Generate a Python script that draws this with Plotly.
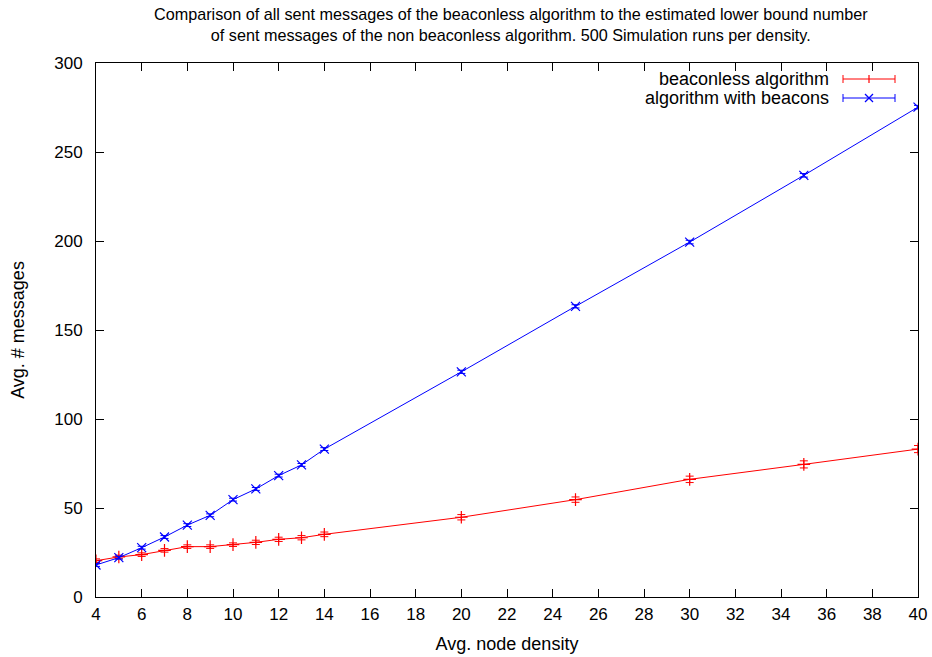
import plotly.graph_objects as go

density = [4, 5, 6, 7, 8, 9, 10, 11, 12, 13, 14, 20, 25, 30, 35, 40]
beaconless = [20.4, 22.5, 23.8, 26.2, 28.3, 28.3, 29.4, 30.7, 32.4, 33.3, 35.2, 44.8, 54.7, 66.1, 74.5, 83.1]
beaconless_err = [1.0, 1.0, 1.0, 1.0, 1.0, 1.0, 1.0, 1.2, 1.2, 1.2, 1.3, 1.5, 1.5, 1.8, 2.0, 2.0]
beacons = [18.0, 22.1, 27.7, 33.7, 40.4, 45.9, 54.7, 60.7, 68.2, 74.2, 83.1, 126.5, 163.3, 199.4, 236.9, 275.2]
beacons_err = [0.8, 0.8, 0.8, 0.8, 0.8, 0.8, 0.8, 0.8, 0.8, 0.8, 0.8, 0.9, 0.9, 1.0, 1.0, 1.0]
series_names = ["beaconless algorithm", "algorithm with beacons"]
x_ticks = list(range(4, 41, 2))
y_ticks = list(range(0, 301, 50))

RED = "#ff0000"
BLUE = "#0000ff"
FONT = "Liberation Sans, Arial, sans-serif"

fig = go.Figure()
fig.add_trace(go.Scatter(
    x=density, y=beaconless, mode="lines+markers", name=series_names[0],
    line=dict(color=RED, width=1),
    marker=dict(symbol="cross-thin-open", size=9, line=dict(color=RED, width=1.2)),
    error_y=dict(type="data", array=beaconless_err, color=RED, thickness=1, width=4),
    showlegend=False,
))
fig.add_trace(go.Scatter(
    x=density, y=beacons, mode="lines+markers", name=series_names[1],
    line=dict(color=BLUE, width=1),
    marker=dict(symbol="x-thin-open", size=9, line=dict(color=BLUE, width=1.2)),
    error_y=dict(type="data", array=beacons_err, color=BLUE, thickness=1, width=4),
    showlegend=False,
))

W, H = 932, 657
L, R, T, B = 96, 14, 63, 60
pw, ph = W - L - R, H - T - B

def px(xp):
    return (xp - L) / pw

def py(yp):
    return 1 - (yp - T) / ph

shapes = []
annotations = []
legend_rows = [(series_names[0], RED, 79, "plus"), (series_names[1], BLUE, 98, "x")]
for name, col, yrow, kind in legend_rows:
    x0, x1, xc = 843, 895, 869
    shapes.append(dict(type="line", xref="paper", yref="paper", x0=px(x0), x1=px(x1),
                       y0=py(yrow), y1=py(yrow), line=dict(color=col, width=1)))
    for xe in (x0, x1):
        shapes.append(dict(type="line", xref="paper", yref="paper", x0=px(xe), x1=px(xe),
                           y0=py(yrow - 4), y1=py(yrow + 4), line=dict(color=col, width=1)))
    if kind == "plus":
        shapes.append(dict(type="line", xref="paper", yref="paper", x0=px(xc), x1=px(xc),
                           y0=py(yrow - 4), y1=py(yrow + 4), line=dict(color=col, width=1.2)))
    else:
        shapes.append(dict(type="line", xref="paper", yref="paper", x0=px(xc - 4), x1=px(xc + 4),
                           y0=py(yrow - 4), y1=py(yrow + 4), line=dict(color=col, width=1.2)))
        shapes.append(dict(type="line", xref="paper", yref="paper", x0=px(xc - 4), x1=px(xc + 4),
                           y0=py(yrow + 4), y1=py(yrow - 4), line=dict(color=col, width=1.2)))
    annotations.append(dict(text=name, xref="paper", yref="paper", x=px(831), y=py(yrow),
                            xanchor="right", yanchor="middle", showarrow=False,
                            font=dict(family=FONT, size=18, color="black")))

annotations.append(dict(
    text="Comparison of all sent messages of the beaconless algorithm to the estimated lower bound number<br>of sent messages of the non beaconless algorithm. 500 Simulation runs per density.",
    xref="paper", yref="paper", x=(511 - L) / pw, y=py(3), xanchor="center", yanchor="top",
    showarrow=False, font=dict(family=FONT, size=16.2, color="black")))

fig.update_layout(
    width=W, height=H,
    margin=dict(l=L, r=R, t=T, b=B, autoexpand=False),
    paper_bgcolor="white", plot_bgcolor="white",
    font=dict(family=FONT, size=17, color="black"),
    shapes=shapes, annotations=annotations,
    showlegend=False,
)
fig.update_xaxes(
    range=[4, 40], tickvals=x_ticks, ticks="inside", ticklen=8, tickwidth=1, tickcolor="black",
    showline=True, linecolor="black", linewidth=1, mirror="ticks", showgrid=False, zeroline=False,
    automargin=False, tickfont=dict(size=17), ticklabelstandoff=2,
    title=dict(text="Avg. node density", font=dict(size=18), standoff=13),
)
fig.update_yaxes(
    range=[0, 300], tickvals=y_ticks, ticks="inside", ticklen=8, tickwidth=1, tickcolor="black",
    showline=True, linecolor="black", linewidth=1, mirror="ticks", showgrid=False, zeroline=False,
    automargin=False, tickfont=dict(size=17), ticklabelstandoff=9,
    title=dict(text="Avg. # messages", font=dict(size=18), standoff=24),
)

fig.write_html("out.html")
